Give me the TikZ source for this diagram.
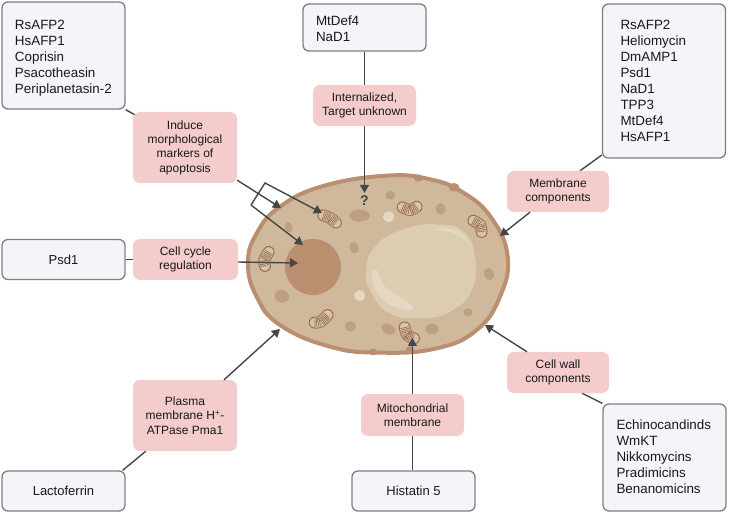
\documentclass[tikz,border=0pt]{standalone}
\usepackage{fontspec}
\setmainfont{Liberation Sans}
\usetikzlibrary{arrows.meta,backgrounds}
\definecolor{boxfill}{HTML}{F6F3F9}
\definecolor{boxline}{HTML}{7F7F82}
\definecolor{pinkfill}{HTML}{F4CCCC}
\definecolor{linkcol}{HTML}{454648}
\definecolor{cytoplasm}{HTML}{CFB89B}
\definecolor{membrane}{HTML}{B98F70}
\definecolor{nucleuscol}{HTML}{B98F70}
\definecolor{blobcol}{HTML}{BF9F82}
\definecolor{vacuolecol}{HTML}{DCCCB1}
\definecolor{vacuolelight}{HTML}{E5D8C2}
\definecolor{mitofill}{HTML}{D8C3A7}
\definecolor{mitoline}{HTML}{94694C}
\tikzset{
  listbox/.style={draw=boxline,fill=boxfill,line width=1.3pt,rounded corners=6pt,
    minimum height=#1,minimum width=123pt,font=\fontsize{13.4}{16}\selectfont,
    inner xsep=0pt,inner ysep=0pt,text=black!90},
  onebox/.style={draw=boxline,fill=boxfill,line width=1.3pt,rounded corners=6pt,
    minimum width=123pt,minimum height=40pt,font=\fontsize{13}{16}\selectfont,text=black!90},
  tag/.style={fill=pinkfill,rounded corners=7pt,minimum width=#1,
    font=\fontsize{12}{14.4}\selectfont,align=center,inner sep=0pt,text=black!90},
  link/.style={draw=linkcol,line width=1.4pt},
  arrowlink/.style={link,-{Triangle[length=8pt,width=9pt]}},
  blob/.style={fill=blobcol,draw=none},
}
% A left-aligned block of names: indent from the box's left edge, twice the drop
% below the box's centre (reserved as extra height above the block), names
\newcommand{\namelist}[3]{\makebox[123pt][l]{\hspace*{#1}\raisebox{0pt}[\dimexpr\height+#2\relax][\depth]{\begin{tabular}{@{}l@{}}#3\end{tabular}}}}
% Mitochondrion: a thick rounded stroke with a dark rim and ribbed interior
\newcommand{\mito}[1]{%
  \draw[mitoline,line width=11.8pt,line cap=round] plot[smooth] coordinates {#1};
  \draw[mitofill,line width=10pt,line cap=round] plot[smooth] coordinates {#1};
  \draw[mitoline,line width=9pt,dash pattern=on 0.6pt off 1pt] plot[smooth] coordinates {#1};
}
\begin{document}
\begin{tikzpicture}[x=1pt,y=-1pt]
\useasboundingbox (0,0) rectangle (729,513);

% Cell body, drawn on a 3x grid anchored at the cell's upper left
\begin{scope}[shift={(230,150)},x=0.33333pt,y=-0.33333pt]
  \draw[draw=membrane,fill=cytoplasm,line width=4pt] plot[smooth cycle,tension=0.75] coordinates {
    (54,340) (80,250) (150,170) (280,108) (470,77) (600,88) (700,128) (785,205)
    (833,320) (810,440) (740,540) (620,595) (450,608) (300,590) (150,525) (80,440)};
  \fill[membrane] (565,84) ellipse (13 and 11);
  \fill[membrane] (672,112) ellipse (16 and 13);
  \fill[membrane] (430,606) ellipse (12 and 10);
  \fill[membrane] (540,600) ellipse (13 and 11);

  % Vacuole with its highlights
  \fill[vacuolecol] plot[smooth cycle,tension=0.8] coordinates {
    (408,360) (440,285) (520,238) (620,223) (700,245) (735,320) (725,420) (660,485) (570,505) (480,490) (425,430)};
  \fill[vacuolelight] plot[smooth cycle] coordinates {
    (425,370) (440,360) (465,410) (545,465) (535,482) (470,460) (435,420)};
  \fill[vacuolelight] plot[smooth cycle] coordinates {
    (610,238) (660,236) (700,255) (725,290) (695,262) (650,244)};

  % Nucleus
  \fill[nucleuscol] (249,351) circle (84);

  % Small organelles
  \fill[blob] (481,136) ellipse (15 and 13);
  \fill[blob] (389,197) ellipse (31 and 18);
  \fill[blob] (632,177) ellipse (15 and 17);
  \fill[blob,rotate around={20:(372,293)}] (372,293) ellipse (13 and 18);
  \fill[blob,rotate around={15:(176,232)}] (176,232) ellipse (11 and 17);
  \fill[blob,rotate around={25:(777,372)}] (777,372) ellipse (14 and 19);
  \fill[blob,rotate around={-20:(155,439)}] (155,439) ellipse (22 and 19);
  \fill[blob] (361,529) ellipse (17 and 16);
  \fill[blob,rotate around={-25:(475,537)}] (475,537) ellipse (22 and 15);
  \fill[blob] (606,537) ellipse (19 and 16);
  \fill[blob] (714,487) ellipse (14 and 12);
  \fill[vacuolelight] (476,200) circle (17);
  \fill[vacuolelight] (389,437) circle (17);

  % Mitochondria
  \mito{(280,196) (300,204) (318,218)}
  \mito{(518,172) (540,180) (560,170)}
  \mito{(730,212) (750,225) (755,246)}
  \mito{(116,306) (103,330) (105,348)}
  \mito{(254,518) (272,515) (293,495)}
  \mito{(524,532) (532,555) (552,565)}
\end{scope}

% Peptide lists
\node[listbox=107pt] (apopList) at (63.5,55.5) {\namelist{13pt}{6pt}{RsAFP2\\HsAFP1\\Coprisin\\Psacotheasin\\Periplanetasin-2}};
\node[listbox=47pt] (unkList) at (364.5,27.5) {\namelist{13pt}{6pt}{MtDef4\\NaD1}};
\node[listbox=154pt] (memList) at (664,81) {\namelist{18pt}{2pt}{RsAFP2\\Heliomycin\\DmAMP1\\Psd1\\NaD1\\TPP3\\MtDef4\\HsAFP1}};
\node[listbox=107pt] (wallList) at (664.5,457.5) {\namelist{13.5pt}{2pt}{Echinocandinds\\WmKT\\Nikkomycins\\Pradimicins\\Benanomicins}};
\node[onebox] (psd) at (63.5,259.5) {Psd1};
\node[onebox] (lacto) at (63.5,491) {Lactoferrin};
\node[onebox] (hist) at (413.5,491) {Histatin 5};

% Mode-of-action tags
\node[tag=104pt,minimum height=71pt] (apop) at (185,147.5) {Induce\\morphological\\markers of\\apoptosis};
\node[tag=103pt,minimum height=41pt] (intern) at (364.5,105.5) {Internalized,\\Target unknown};
\node[tag=102pt,minimum height=41pt] (memb) at (558,191.5) {Membrane\\components};
\node[tag=105pt,minimum height=41pt] (cycle) at (185.5,259.5) {Cell cycle\\regulation};
\node[tag=104pt,minimum height=71pt] (plasma) at (185,415.5) {Plasma\\membrane H\textsuperscript{+}-\\ATPase Pma1};
\node[tag=103pt,minimum height=42pt] (mitoTag) at (412.5,415) {Mitochondrial\\membrane};
\node[tag=102pt,minimum height=41pt] (wall) at (558,372.5) {Cell wall\\components};

\node[font=\bfseries\fontsize{14}{16}\selectfont,text=linkcol,inner sep=0pt] (query) at (364.5,201) {?};

% Targets inside and on the cell
\coordinate (tMemA) at (281,208);
\coordinate (tMito) at (322,213);
\coordinate (tNuc) at (303,245);
\coordinate (split) at (251,205);
\coordinate (bend) at (265,183);
\coordinate (tMemb) at (500,236);
\coordinate (tCycle) at (298,263);
\coordinate (tPlasma) at (280,329);
\coordinate (tMitoB) at (412.5,338);
\coordinate (tWall) at (485,325);

% Connectors from lists to tags
\begin{scope}[on background layer]
  \draw[link] (apopList.south east) -- ([xshift=2pt,yshift=-3pt]apop.north west);
  \draw[link] (unkList.south) -- (intern.north);
  \draw[link] ([yshift=-74pt]memList.west) -- ([xshift=22pt]memb.north);
  \draw[link] (psd.east) -- (cycle.west);
  \draw[link] ([xshift=-3pt]lacto.north east) -- ([xshift=13pt]plasma.south west);
  \draw[link] ([xshift=-1pt]hist.north) -- (mitoTag.south);
  \draw[link] (wallList.north west) -- ([xshift=24pt]wall.south);
\end{scope}

% Arrows from tags to the cell
\draw[arrowlink] ([yshift=3pt]apop.south east) -- (tMemA);
\draw[arrowlink] (split) -- (bend) -- (tMito);
\draw[arrowlink] (split) -- (tNuc);
\draw[arrowlink] (intern.south) -- ([yshift=3pt]query.north);
\draw[arrowlink] ([xshift=-28pt]memb.south) -- (tMemb);
\draw[arrowlink] ([yshift=-2.5pt]cycle.east) -- (tCycle);
\draw[arrowlink] ([xshift=39pt]plasma.north) -- (tPlasma);
\draw[arrowlink] (mitoTag.north) -- (tMitoB);
\draw[arrowlink] ([xshift=-31pt]wall.north) -- (tWall);
\end{tikzpicture}
\end{document}
